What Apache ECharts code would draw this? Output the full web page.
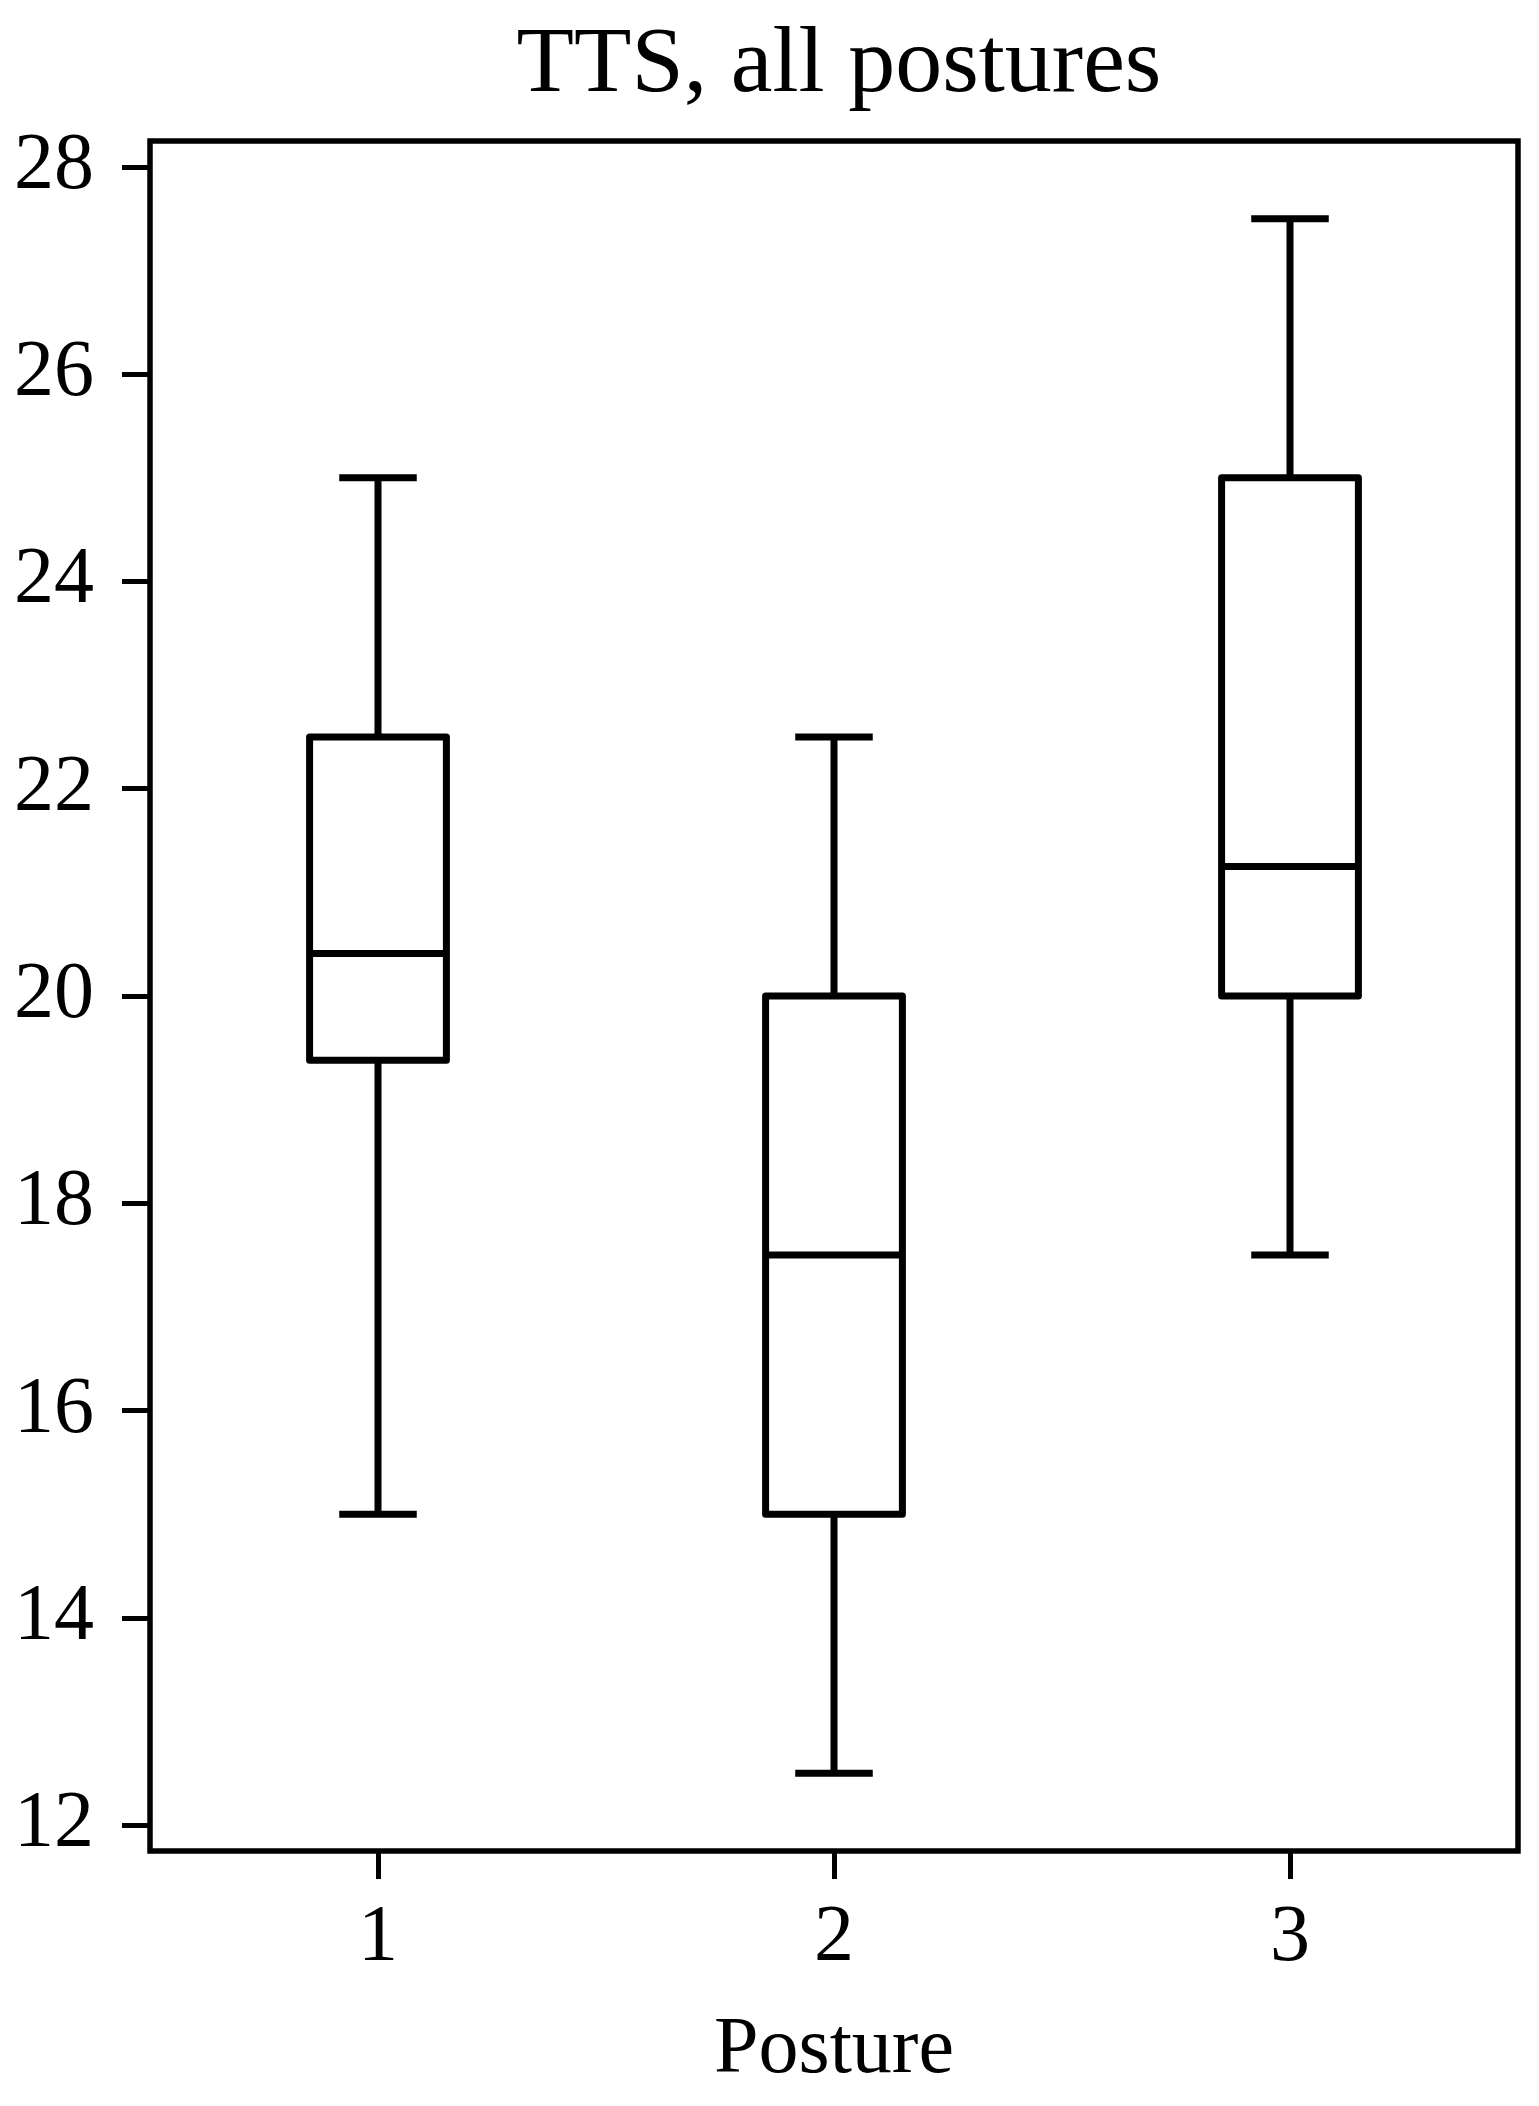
<!DOCTYPE html>
<html>
<head>
<meta charset="utf-8">
<script src="https://cdn.jsdelivr.net/npm/echarts@6/dist/echarts.min.js"></script>
<style>
  html, body { margin: 0; padding: 0; background: #fff; }
  #box_chart { width: 1539px; height: 2106px; }
</style>
</head>
<body>
<div id="box_chart"></div>
<script>
// box statistics per posture
var categories = ['1', '2', '3'];
var lowWhisker = [15, 12.5, 17.5];
var q1 = [19.38, 15, 20];
var medians = [20.41, 17.5, 21.25];
var q3 = [22.5, 20, 25];
var highWhisker = [25, 22.5, 27.5];
var yTicks = [12, 14, 16, 18, 20, 22, 24, 26, 28];

var boxData = categories.map(function (c, i) {
    return [i, lowWhisker[i], q1[i], medians[i], q3[i], highWhisker[i]];
});

var FONT = '"Liberation Serif", "Times New Roman", serif';
var LW = 7;

function renderBox(params, api) {
    var x = api.value(0);
    var band = api.size([1, 0])[0];
    var boxHalf = band * 0.15;
    var capHalf = band * 0.085;
    var pLow = api.coord([x, api.value(1)]);
    var pQ1 = api.coord([x, api.value(2)]);
    var pMed = api.coord([x, api.value(3)]);
    var pQ3 = api.coord([x, api.value(4)]);
    var pHigh = api.coord([x, api.value(5)]);
    var cx = pLow[0];
    var style = { stroke: '#000', lineWidth: LW, fill: null };
    function line(x1, y1, x2, y2) {
        return { type: 'line', shape: { x1: x1, y1: y1, x2: x2, y2: y2 }, style: style };
    }
    return {
        type: 'group',
        children: [
            line(cx, pHigh[1], cx, pQ3[1]),
            line(cx, pQ1[1], cx, pLow[1]),
            line(cx - capHalf, pHigh[1], cx + capHalf, pHigh[1]),
            line(cx - capHalf, pLow[1], cx + capHalf, pLow[1]),
            {
                type: 'rect',
                shape: { x: cx - boxHalf, y: pQ3[1], width: boxHalf * 2, height: pQ1[1] - pQ3[1] },
                style: { stroke: '#000', lineWidth: LW, fill: null, lineJoin: 'round' }
            },
            line(cx - boxHalf, pMed[1], cx + boxHalf, pMed[1])
        ]
    };
}

var myChart = echarts.init(document.getElementById('box_chart'));
var option = {
    backgroundColor: '#fff',
    animation: false,
    title: {
        text: 'TTS, all postures',
        left: 834,
        textAlign: 'center',
        top: 14,
        textStyle: { fontFamily: FONT, fontSize: 94, fontWeight: 'normal', color: '#000' }
    },
    grid: {
        left: 150,
        right: 21,
        top: 141,
        bottom: 255,
        show: true,
        borderColor: '#000',
        borderWidth: 5.5
    },
    xAxis: {
        type: 'category',
        data: categories,
        boundaryGap: true,
        name: 'Posture',
        nameLocation: 'middle',
        nameGap: 160,
        nameTextStyle: { fontFamily: FONT, fontSize: 80, color: '#000' },
        axisLine: { show: false },
        axisTick: { show: true, alignWithLabel: true, length: 28, lineStyle: { color: '#000', width: 5 } },
        axisLabel: { fontFamily: FONT, fontSize: 80, color: '#000', margin: 48 },
        splitLine: { show: false }
    },
    yAxis: {
        type: 'value',
        min: 11.75,
        max: 28.25,
        axisLine: { show: false },
        axisTick: { show: true, length: 28, lineStyle: { color: '#000', width: 5 }, customValues: yTicks },
        axisLabel: { fontFamily: FONT, fontSize: 80, color: '#000', margin: 56, customValues: yTicks },
        splitLine: { show: false }
    },
    series: [
        {
            type: 'custom',
            renderItem: renderBox,
            encode: { x: 0, y: [1, 2, 3, 4, 5] },
            data: boxData
        }
    ]
};
myChart.setOption(option);
</script>
</body>
</html>
